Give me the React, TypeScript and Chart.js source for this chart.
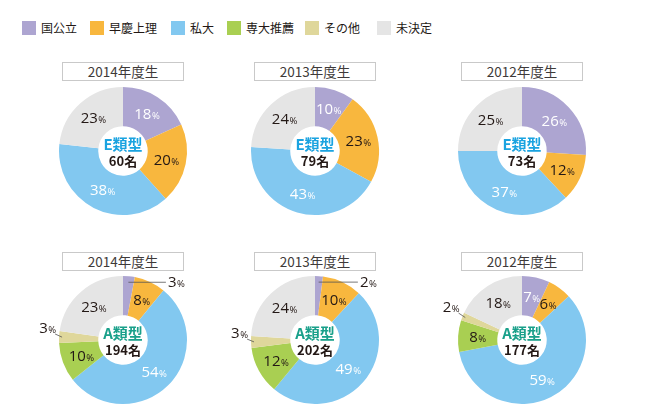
import React, { useEffect, useRef } from 'react';
import { Chart, registerables } from 'chart.js';

Chart.register(...registerables);

const categories = ['国公立', '早慶上理', '私大', '専大推薦', 'その他', '未決定'];
const sliceColors = ['#ADA5D1', '#F8B73E', '#82C8F0', '#A9CF52', '#DFD79B', '#E5E5E5'];
const labelColors = ['#ffffff', '#231815', '#ffffff', '#231815', '#231815', '#231815'];
const years = ['2014年度生', '2013年度生', '2012年度生'];

const eTotals = [60, 79, 73];
const aTotals = [194, 202, 177];

const e2014 = [18, 20, 38, 0, 0, 23];
const e2013 = [10, 23, 43, 0, 0, 24];
const e2012 = [26, 12, 37, 0, 0, 25];
const a2014 = [3, 8, 54, 10, 3, 23];
const a2013 = [2, 10, 49, 12, 3, 24];
const a2012 = [7, 6, 59, 8, 2, 18];

const eValues = [e2014, e2013, e2012];
const aValues = [a2014, a2013, a2012];

const colX = [123, 315, 522];
const rowY = [151, 340];
const titleTop = [62, 252];
const legendX = [22, 90, 171, 227, 305, 377];

const CW = 200;
const CH = 150;
const NUM_FONT = "15px 'Open Sans', 'Noto Sans', sans-serif";
const PCT_FONT = "9.5px 'Open Sans', 'Noto Sans', sans-serif";

function drawPct(ctx: CanvasRenderingContext2D, value: number, x: number, y: number, align: 'center' | 'left' | 'right', color: string) {
  ctx.save();
  ctx.fillStyle = color;
  ctx.textBaseline = 'alphabetic';
  ctx.textAlign = 'left';
  ctx.font = NUM_FONT;
  const num = String(value);
  const wn = ctx.measureText(num).width;
  ctx.font = PCT_FONT;
  const wp = ctx.measureText('%').width;
  const total = wn + wp + 0.5;
  let left = x - total / 2;
  if (align === 'left') left = x;
  if (align === 'right') left = x - total;
  const base = y + 5;
  ctx.font = NUM_FONT;
  ctx.fillText(num, left, base);
  ctx.font = PCT_FONT;
  ctx.fillText('%', left + wn + 0.5, base);
  ctx.restore();
}

function Donut({ values, kind, total, left, top }: { values: number[]; kind: string; total: number; left: number; top: number }) {
  const ref = useRef<HTMLCanvasElement | null>(null);
  useEffect(() => {
    if (!ref.current) return;
    const kindColor = kind === 'E' ? '#1AA3E0' : '#19A08A';
    const labelPlugin = {
      id: 'sliceLabels',
      afterDatasetsDraw(chart: any) {
        const ctx: CanvasRenderingContext2D = chart.ctx;
        const meta = chart.getDatasetMeta(0);
        meta.data.forEach((arc: any, i: number) => {
          const v = values[i];
          if (!v) return;
          const p = arc.getProps(['x', 'y', 'startAngle', 'endAngle', 'innerRadius', 'outerRadius'], true);
          const mid = (p.startAngle + p.endAngle) / 2;
          const cos = Math.cos(mid);
          const sin = Math.sin(mid);
          if (v >= 5) {
            const r = (p.innerRadius + p.outerRadius) / 2;
            drawPct(ctx, v, p.x + cos * r, p.y + sin * r, 'center', labelColors[i]);
          } else if (i === 0) {
            const r = p.outerRadius - 6;
            const sx = p.x + cos * r;
            const sy = p.y + sin * r;
            const ex = p.x + p.outerRadius * 0.67;
            ctx.save();
            ctx.strokeStyle = '#555';
            ctx.lineWidth = 0.8;
            ctx.beginPath();
            ctx.moveTo(sx, sy);
            ctx.lineTo(ex, sy);
            ctx.stroke();
            ctx.restore();
            drawPct(ctx, v, ex + 2, sy, 'left', '#231815');
          } else {
            const rin = p.outerRadius - 3;
            const ix = p.x + cos * rin;
            const iy = p.y + sin * rin;
            const ox = p.x + cos * (p.outerRadius + 1) - 3;
            const oy = p.y + sin * (p.outerRadius + 1) - 3;
            ctx.save();
            ctx.strokeStyle = '#555';
            ctx.lineWidth = 0.8;
            ctx.beginPath();
            ctx.moveTo(ix, iy);
            ctx.lineTo(ox, oy);
            ctx.stroke();
            ctx.restore();
            drawPct(ctx, v, ox + 1, oy - 6, 'right', '#231815');
          }
        });
        const a0 = meta.data[0];
        if (a0) {
          const cx = a0.x;
          const cy = a0.y;
          ctx.save();
          ctx.textAlign = 'center';
          ctx.textBaseline = 'middle';
          ctx.fillStyle = kindColor;
          ctx.font = "bold 15px 'Noto Sans CJK JP', sans-serif";
          ctx.fillText(kind + '類型', cx, cy - 7);
          ctx.fillStyle = '#231815';
          ctx.font = "bold 13px 'Noto Sans CJK JP', sans-serif";
          ctx.fillText(total + '名', cx, cy + 10);
          ctx.restore();
        }
      },
    };
    const chart = new Chart(ref.current, {
      type: 'doughnut',
      data: {
        labels: categories,
        datasets: [
          {
            data: values,
            backgroundColor: sliceColors,
            borderWidth: 0,
          },
        ],
      },
      options: {
        responsive: false,
        animation: false,
        radius: 64,
        cutout: 29,
        rotation: 0,
        plugins: { legend: { display: false }, tooltip: { enabled: false } },
        layout: { padding: 0 },
      } as any,
      plugins: [labelPlugin],
    });
    return () => chart.destroy();
  }, [values, kind, total]);
  return (
    <canvas
      ref={ref}
      width={CW}
      height={CH}
      style={{ position: 'absolute', left, top, width: CW, height: CH }}
    />
  );
}

export default function App() {
  return (
    <div style={{ position: 'absolute', left: 0, top: 0, width: 645, height: 420, background: '#fff', overflow: 'hidden' }}>
      {categories.map((c, i) => (
        <div key={c} style={{ position: 'absolute', left: legendX[i], top: 21, height: 14, display: 'flex', alignItems: 'center', whiteSpace: 'nowrap' }}>
          <span style={{ display: 'inline-block', width: 14, height: 14, background: sliceColors[i] }} />
          <span style={{ marginLeft: 5, fontFamily: "'Noto Sans CJK JP', sans-serif", fontSize: 12, color: '#231815', lineHeight: '14px' }}>{c}</span>
        </div>
      ))}
      {[0, 1].map((row) =>
        years.map((y, col) => (
          <div
            key={row + '-' + col}
            style={{
              position: 'absolute',
              left: colX[col] - 61,
              top: titleTop[row],
              width: 122,
              height: 19,
              boxSizing: 'border-box',
              border: '1px solid #c9c9c9',
              fontFamily: "'Noto Sans CJK JP', sans-serif",
              fontSize: 13.5,
              color: '#3e3a39',
              textAlign: 'center',
              lineHeight: '17px',
            }}
          >
            {y}
          </div>
        ))
      )}
      {[0, 1, 2].map((col) => (
        <Donut key={'e' + col} values={eValues[col]} kind="E" total={eTotals[col]} left={colX[col] - CW / 2} top={rowY[0] - CH / 2} />
      ))}
      {[0, 1, 2].map((col) => (
        <Donut key={'a' + col} values={aValues[col]} kind="A" total={aTotals[col]} left={colX[col] - CW / 2} top={rowY[1] - CH / 2} />
      ))}
    </div>
  );
}
